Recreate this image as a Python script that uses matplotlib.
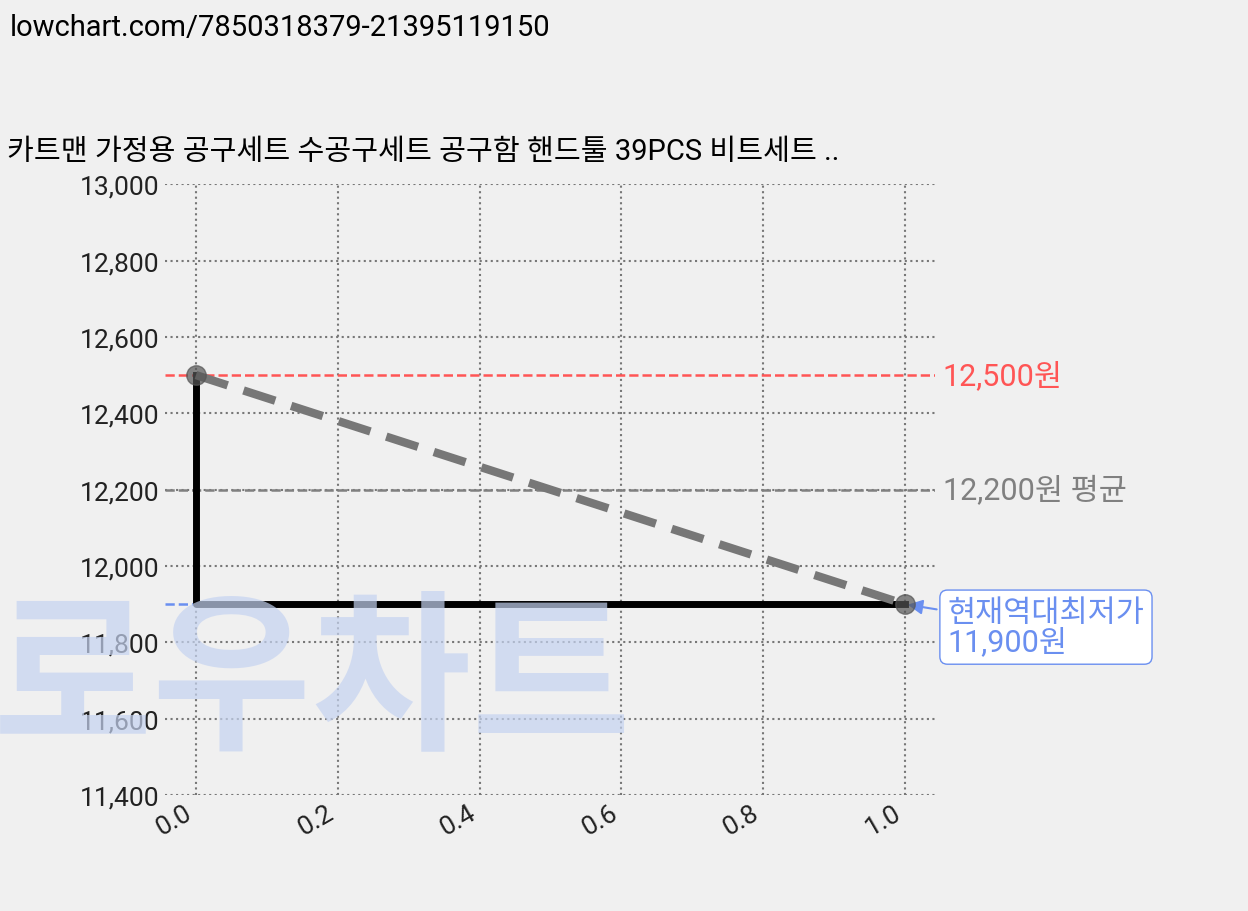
import matplotlib
matplotlib.use("Agg")
import matplotlib.pyplot as plt

plt.rcParams['font.family'] = ['Roboto', 'Noto Sans CJK KR', 'DejaVu Sans']

title = "카트맨 가정용 공구세트 수공구세트 공구함 핸드툴 39PCS 비트세트 .."
url = "lowchart.com/7850318379-21395119150"
xs = [0.0, 1.0]
prices = [12500, 11900]
max_price = 12500
avg_price = 12200
min_price = 11900

fig = plt.figure(figsize=(12.48, 9.12), dpi=100, facecolor='#f0f0f0')
ax = fig.add_axes([0.132, 0.127, 0.617, 0.670], facecolor='#f0f0f0')

fig.text(0.008, 0.985, url, fontsize=21, va='top', ha='left')
fig.text(0.25, 0.25, "로우차트", fontsize=125, color='#c5d3f0', alpha=0.7,
         ha='center', va='center', weight='black', zorder=0, family=['Noto Sans CJK KR'])

ax.set_xlim(-0.044, 1.042)
ax.set_ylim(11400, 13000)
ax.grid(True, linestyle=':', color='#777777', linewidth=1.5)
for s in ax.spines.values():
    s.set_visible(False)
ax.tick_params(length=0, labelsize=19, labelcolor='#222222')
ax.set_xticks([0, 0.2, 0.4, 0.6, 0.8, 1.0])
ax.set_yticks(range(11400, 13001, 200))
ax.set_yticklabels([f"{v:,}" for v in range(11400, 13001, 200)])
for lab in ax.get_xticklabels():
    lab.set_rotation(30); lab.set_ha('right')

ax.axhline(max_price, color='#ff5555', linestyle='--', linewidth=1.8)
ax.axhline(avg_price, color='#808080', linestyle='--', linewidth=1.8)
ax.plot([-0.044, xs[1]], [min_price, min_price], color='#6a8ff0', linestyle='--', linewidth=1.8)

ax.plot([xs[0], xs[0], xs[1]], [prices[0], prices[1], prices[1]], color='black', linewidth=5, zorder=3)
ax.plot(xs, prices, color='#777777', linestyle='--', linewidth=6, dashes=(4, 2), zorder=4)
ax.plot(xs, prices, 'o', color='#555555', alpha=0.7, markersize=14, zorder=5)

ax.text(1.053, max_price, f"{max_price:,}원", color='#ff5555', fontsize=22, va='center', clip_on=False)
ax.text(1.053, avg_price, f"{avg_price:,}원 평균", color='#808080', fontsize=22, va='center', clip_on=False)
ax.annotate(f"현재역대최저가\n{min_price:,}원", xy=(xs[1], min_price), xytext=(1.06, min_price - 60),
            fontsize=22, color='#6a8ff0', va='center', ha='left', linespacing=1.0,
            bbox=dict(boxstyle='round,pad=0.25', fc='white', ec='#6a8ff0'),
            arrowprops=dict(arrowstyle='-|>', color='#6a8ff0', lw=1.5), annotation_clip=False)

fig.text(0.006, 0.833, title, fontsize=21, ha='left', va='center')

fig.savefig("out.png", dpi=100, facecolor=fig.get_facecolor())
